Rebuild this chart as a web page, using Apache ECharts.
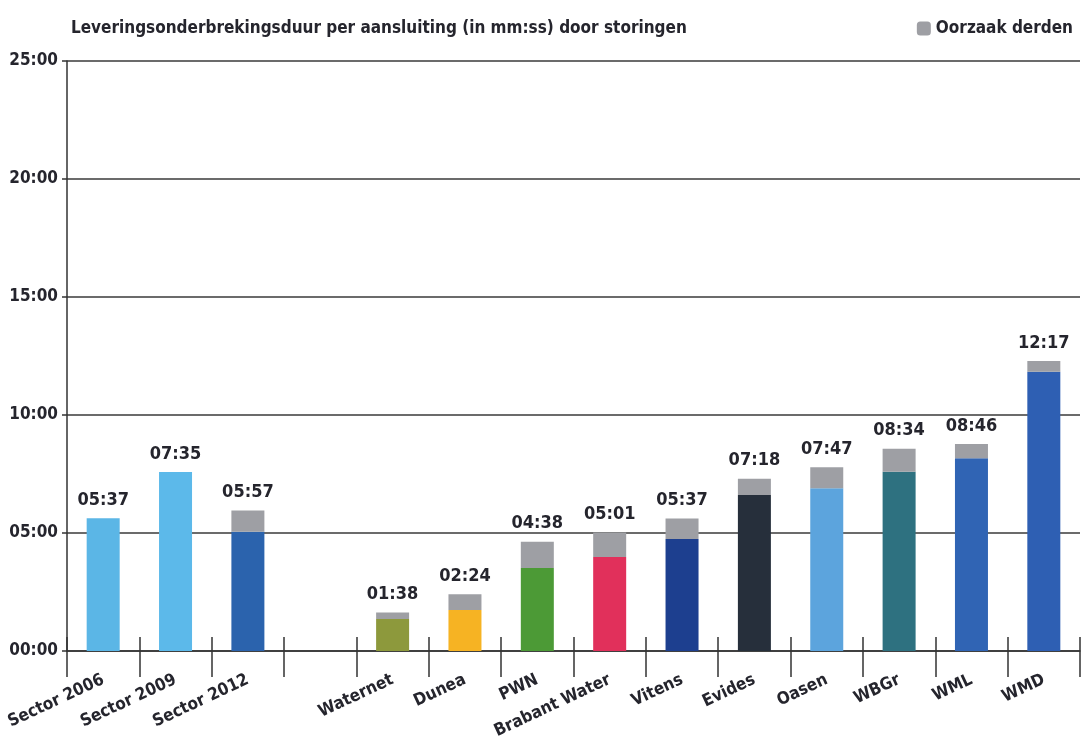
<!DOCTYPE html>
<html>
<head>
    <meta charset="utf-8">
    <title>Leveringsonderbrekingsduur</title>
    <script src="https://cdn.jsdelivr.net/npm/echarts@6/dist/echarts.min.js"></script>
    <style>
        html, body { margin: 0; padding: 0; background: #fff; }
        #chart { width: 1083px; height: 745px; }
    </style>
</head>
<body>
<div id="chart"></div>
<script>
    // categories (empty slot separates sector averages from companies)
    var categories = ['Sector 2006', 'Sector 2009', 'Sector 2012', '', 'Waternet', 'Dunea', 'PWN',
        'Brabant Water', 'Vitens', 'Evides', 'Oasen', 'WBGr', 'WML', 'WMD'];
    // total labels (mm:ss) as printed above the bars
    var totalLabels = ['05:37', '07:35', '05:57', '', '01:38', '02:24', '04:38',
        '05:01', '05:37', '07:18', '07:47', '08:34', '08:46', '12:17'];
    // own part (minutes)
    var ownPart = [5.62, 7.58, 5.05, null, 1.36, 1.74, 3.52, 3.98, 4.75, 6.61, 6.90, 7.60, 8.17, 11.83];
    var barColors = ['#5bb6e6', '#5cb9ea', '#2b63ad', '#ffffff', '#8d993c', '#f6b323', '#4c9a36',
        '#e1305b', '#1d3f8f', '#262f3b', '#5ca4dd', '#2e7180', '#3064b4', '#2e5fb3'];
    var yTicks = ['00:00', '05:00', '10:00', '15:00', '20:00', '25:00'];

    function toMinutes(s) {
        if (!s) return null;
        var p = s.split(':');
        return parseInt(p[0], 10) + parseInt(p[1], 10) / 60;
    }

    var thirdParty = totalLabels.map(function (s, i) {
        var t = toMinutes(s);
        if (t === null) return null;
        return Math.max(0, +(t - ownPart[i]).toFixed(3));
    });

    var font = '"Liberation Sans Narrow", "DejaVu Sans Condensed", sans-serif';
    var ink = '#25252d';

    var chart = echarts.init(document.getElementById('chart'));

    var option = {
        animation: false,
        textStyle: { fontFamily: font },
        title: {
            text: 'Leveringsonderbrekingsduur per aansluiting (in mm:ss) door storingen',
            left: 66,
            top: 15,
            textStyle: { fontFamily: font, fontSize: 17, fontWeight: 'bold', color: ink }
        },
        legend: {
            data: ['Oorzaak derden'],
            right: 5,
            top: 15,
            itemWidth: 14,
            itemHeight: 14,
            itemGap: 6,
            textStyle: { fontFamily: font, fontSize: 17, fontWeight: 'bold', color: ink }
        },
        grid: { left: 67, right: 3, top: 61, bottom: 94, containLabel: false },
        xAxis: [
            {
                type: 'category',
                data: categories,
                axisLine: { lineStyle: { color: '#333', width: 1.5 } },
                axisTick: { show: true, interval: 0, length: 26, lineStyle: { color: '#333', width: 1.5 } },
                axisLabel: {
                    interval: 0,
                    rotate: 25,
                    margin: 28,
                    fontFamily: font,
                    fontSize: 17,
                    fontWeight: 'bold',
                    color: ink
                }
            },
            {
                // short ticks that poke above the axis line
                type: 'category',
                data: categories,
                position: 'bottom',
                offset: 0,
                axisLine: { show: false },
                axisTick: { show: true, inside: true, interval: 0, length: 14, lineStyle: { color: '#333', width: 1.5 } },
                axisLabel: { show: false }
            }
        ],
        yAxis: {
            type: 'value',
            min: 0,
            max: 25,
            interval: 5,
            axisLine: { show: true, lineStyle: { color: '#333', width: 1.5 } },
            axisTick: { show: true, length: 5, lineStyle: { color: '#333', width: 1.5 } },
            splitLine: { lineStyle: { color: '#3a3a3a', width: 1.5 } },
            axisLabel: {
                margin: 9,
                fontFamily: font,
                fontSize: 17,
                fontWeight: 'bold',
                color: ink,
                formatter: function (v) { return yTicks[Math.round(v / 5)]; }
            }
        },
        series: [
            {
                name: 'Eigen oorzaak',
                type: 'bar',
                stack: 'total',
                barWidth: 33,
                data: ownPart.map(function (v, i) {
                    return { value: v, itemStyle: { color: barColors[i] } };
                })
            },
            {
                name: 'Oorzaak derden',
                type: 'bar',
                stack: 'total',
                barWidth: 33,
                itemStyle: { color: '#9e9fa4' },
                label: {
                    show: true,
                    position: 'top',
                    distance: 9,
                    fontFamily: font,
                    fontSize: 18,
                    fontWeight: 'bold',
                    color: ink,
                    formatter: function (p) { return totalLabels[p.dataIndex]; }
                },
                data: thirdParty
            }
        ]
    };

    chart.setOption(option);

    window.onresize = function () {
        chart.resize();
    };
</script>
</body>
</html>
